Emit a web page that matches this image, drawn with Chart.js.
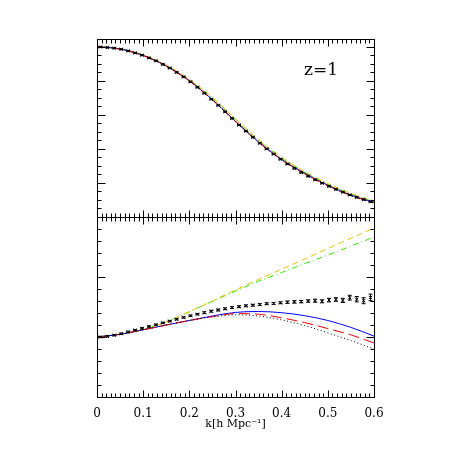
<!DOCTYPE html>
<html>
<head>
<meta charset="utf-8">
<title>z=1</title>
<script src="https://cdn.jsdelivr.net/npm/chart.js@4.4.1/dist/chart.umd.min.js"></script>
<style>
    html, body { margin: 0; padding: 0; background: #fff; }
    #wrap { width: 452px; height: 452px; }
</style>
</head>
<body>
<div id="wrap"><canvas id="chart" width="452" height="452"></canvas></div>
<script>
// k grids
const kTop = [0, 0.025, 0.05, 0.075, 0.1, 0.125, 0.15, 0.175, 0.2, 0.225, 0.25, 0.275, 0.3,
              0.325, 0.35, 0.375, 0.4, 0.425, 0.45, 0.475, 0.5, 0.525, 0.55, 0.575, 0.6];
const kBot = [0, 0.05, 0.1, 0.15, 0.2, 0.25, 0.3, 0.35, 0.4, 0.45, 0.5, 0.55, 0.6];
const kData = [0.0075, 0.0225, 0.0375, 0.0525, 0.0675, 0.0825, 0.0975, 0.1125, 0.1275, 0.1425,
               0.1575, 0.1725, 0.1875, 0.2025, 0.2175, 0.2325, 0.2475, 0.2625, 0.2775, 0.2925,
               0.3075, 0.3225, 0.3375, 0.3525, 0.3675, 0.3825, 0.3975, 0.4125, 0.4275, 0.4425,
               0.4575, 0.4725, 0.4875, 0.5025, 0.5175, 0.5325, 0.5475, 0.5625, 0.5775, 0.5925];

// upper panel
const topBlack  = [1.000, 0.997, 0.988, 0.972, 0.950, 0.922, 0.888, 0.847, 0.800, 0.746, 0.688, 0.625, 0.560,
                   0.498, 0.438, 0.384, 0.335, 0.292, 0.253, 0.216, 0.183, 0.152, 0.125, 0.102, 0.083];
const topRed    = [1.000, 0.997, 0.988, 0.972, 0.950, 0.922, 0.888, 0.847, 0.801, 0.747, 0.689, 0.626, 0.561,
                   0.499, 0.440, 0.386, 0.337, 0.294, 0.255, 0.218, 0.185, 0.154, 0.127, 0.104, 0.085];
const topBlue   = [1.000, 0.997, 0.988, 0.972, 0.950, 0.922, 0.888, 0.848, 0.802, 0.748, 0.690, 0.628, 0.563,
                   0.501, 0.442, 0.388, 0.339, 0.296, 0.257, 0.220, 0.187, 0.156, 0.129, 0.106, 0.087];
const topYellow = [1.000, 0.997, 0.989, 0.974, 0.953, 0.927, 0.894, 0.855, 0.810, 0.759, 0.703, 0.642, 0.577,
                   0.515, 0.455, 0.400, 0.351, 0.307, 0.267, 0.230, 0.197, 0.166, 0.139, 0.115, 0.096];
const topGreen  = [1.000, 0.997, 0.989, 0.973, 0.952, 0.925, 0.892, 0.852, 0.807, 0.755, 0.699, 0.638, 0.573,
                   0.511, 0.451, 0.396, 0.347, 0.303, 0.263, 0.226, 0.193, 0.162, 0.135, 0.111, 0.092];
const topPoints = [1.000, 0.997, 0.993, 0.987, 0.977, 0.965, 0.952, 0.936, 0.919, 0.898,
                   0.876, 0.851, 0.824, 0.795, 0.763, 0.728, 0.693, 0.657, 0.619, 0.580,
                   0.541, 0.505, 0.469, 0.434, 0.401, 0.370, 0.340, 0.312, 0.286, 0.262,
                   0.240, 0.219, 0.199, 0.181, 0.163, 0.146, 0.130, 0.116, 0.103, 0.090];
const topErrors = [0.003, 0.003, 0.003, 0.003, 0.003, 0.003, 0.003, 0.003, 0.003, 0.003,
                   0.003, 0.003, 0.003, 0.003, 0.003, 0.003, 0.003, 0.003, 0.003, 0.003,
                   0.003, 0.003, 0.003, 0.003, 0.003, 0.003, 0.003, 0.003, 0.003, 0.003,
                   0.003, 0.003, 0.003, 0.003, 0.003, 0.003, 0.003, 0.003, 0.003, 0.003];

// lower panel
const botBlack  = [1.000, 1.009, 1.024, 1.040, 1.055, 1.067, 1.074, 1.070, 1.057, 1.038, 1.014, 0.988, 0.960];
const botRed    = [1.000, 1.009, 1.024, 1.040, 1.055, 1.068, 1.078, 1.076, 1.064, 1.048, 1.028, 1.007, 0.980];
const botBlue   = [1.000, 1.009, 1.024, 1.040, 1.055, 1.070, 1.082, 1.085, 1.081, 1.071, 1.055, 1.032, 1.003];
const botYellow = [1.000, 1.009, 1.025, 1.050, 1.085, 1.120, 1.157, 1.192, 1.226, 1.260, 1.295, 1.329, 1.363];
const botGreen  = [1.000, 1.009, 1.025, 1.050, 1.084, 1.119, 1.153, 1.186, 1.215, 1.245, 1.273, 1.303, 1.333];
const botPoints = [1.000, 1.002, 1.006, 1.011, 1.017, 1.023, 1.029, 1.035, 1.041, 1.047,
                   1.053, 1.059, 1.065, 1.071, 1.076, 1.081, 1.086, 1.090, 1.094, 1.098,
                   1.101, 1.104, 1.106, 1.108, 1.111, 1.112, 1.114, 1.116, 1.117, 1.118,
                   1.120, 1.121, 1.119, 1.123, 1.125, 1.122, 1.131, 1.126, 1.121, 1.132];
const botErrors = [0.002, 0.002, 0.002, 0.002, 0.002, 0.002, 0.002, 0.002, 0.002, 0.002,
                   0.002, 0.002, 0.002, 0.002, 0.002, 0.003, 0.003, 0.003, 0.003, 0.003,
                   0.003, 0.003, 0.003, 0.003, 0.003, 0.003, 0.003, 0.004, 0.004, 0.004,
                   0.004, 0.005, 0.005, 0.006, 0.006, 0.007, 0.008, 0.009, 0.010, 0.011];

const xTicks = [0, 0.1, 0.2, 0.3, 0.4, 0.5, 0.6];

const pts = (xs, ys) => xs.map((x, i) => ({ x: x, y: ys[i] }));

function line(data, axis, color, dash, width) {
    return {
        type: 'line',
        data: data,
        yAxisID: axis,
        borderColor: color,
        borderWidth: width || 1,
        borderDash: dash,
        pointRadius: 0,
        fill: false,
        cubicInterpolationMode: 'monotone',
        order: 2
    };
}

function points(data, axis, errors) {
    return {
        type: 'line',
        data: data,
        yAxisID: axis,
        showLine: false,
        pointStyle: 'crossRot',
        pointRadius: 2.2,
        borderColor: '#000',
        pointBorderWidth: 1,
        errors: errors,
        order: 0
    };
}

// error bars, drawn through the panel's own scale
const errorBars = {
    id: 'errorBars',
    afterDatasetsDraw(chart) {
        const ctx = chart.ctx;
        chart.data.datasets.forEach((ds, i) => {
            if (!ds.errors) return;
            const meta = chart.getDatasetMeta(i);
            const ys = chart.scales[ds.yAxisID];
            ctx.save();
            ctx.strokeStyle = '#000';
            ctx.lineWidth = 1;
            meta.data.forEach((pt, j) => {
                const v = ds.data[j].y, e = ds.errors[j];
                const y1 = ys.getPixelForValue(v - e);
                const y2 = ys.getPixelForValue(v + e);
                ctx.beginPath();
                ctx.moveTo(pt.x, y1); ctx.lineTo(pt.x, y2);
                ctx.moveTo(pt.x - 2, y1); ctx.lineTo(pt.x + 2, y1);
                ctx.moveTo(pt.x - 2, y2); ctx.lineTo(pt.x + 2, y2);
                ctx.stroke();
            });
            ctx.restore();
        });
    }
};

// boxes with inward ticks on all four sides of each panel
const frame = {
    id: 'frame',
    afterDraw(chart) {
        const { ctx, chartArea: a, scales } = chart;
        const x = scales.x;
        const l = Math.round(a.left) + 0.5, r = Math.round(a.right) + 0.5;
        ctx.save();
        ctx.strokeStyle = '#000';
        ctx.lineWidth = 1;
        const panels = [
            { s: scales.yTop, start: 0, step: 0.05, n: 21, every: 4 },
            { s: scales.yBot, start: 0.8, step: 0.04, n: 15, every: 5 }
        ];
        panels.forEach(p => {
            const t = Math.round(p.s.top) + 0.5, b = Math.round(p.s.bottom) + 0.5;
            ctx.strokeRect(l, t, r - l, b - t);
            ctx.beginPath();
            for (let i = 0; i <= 60; i++) {
                const px = Math.round(x.getPixelForValue(i / 100)) + 0.5;
                const len = i % 10 === 0 ? 7 : 4;
                ctx.moveTo(px, b); ctx.lineTo(px, b - len);
                ctx.moveTo(px, t); ctx.lineTo(px, t + len);
            }
            for (let i = 0; i <= p.n; i++) {
                const v = p.start + i * p.step;
                if (v > p.s.max + 1e-9) break;
                const py = Math.round(p.s.getPixelForValue(v)) + 0.5;
                const len = i % p.every === 0 ? 8 : 4;
                ctx.moveTo(l, py); ctx.lineTo(l + len, py);
                ctx.moveTo(r, py); ctx.lineTo(r - len, py);
            }
            ctx.stroke();
        });
        // panel label
        ctx.fillStyle = '#000';
        ctx.font = '17px "DejaVu Serif"';
        ctx.textBaseline = 'alphabetic';
        ctx.fillText('z=1', a.left + 207, scales.yTop.top + 36);
        ctx.restore();
    }
};

const hiddenY = (min, max, weight, order) => ({
    type: 'linear',
    position: 'left',
    stack: 'panels',
    stackWeight: weight,
    weight: order,
    min: min,
    max: max,
    grid: { display: false },
    border: { display: false },
    ticks: { display: false },
    afterFit: s => { s.width = 0; }
});

new Chart(document.getElementById('chart'), {
    data: {
        datasets: [
            line(pts(kTop, topBlack), 'yTop', '#000', [1, 2.5]),
            line(pts(kTop, topRed), 'yTop', '#ff0000', [11, 5]),
            line(pts(kTop, topBlue), 'yTop', '#0000ff', []),
            line(pts(kTop, topYellow), 'yTop', '#e6c400', [6, 4]),
            line(pts(kTop, topGreen), 'yTop', '#33e600', [6, 3, 1, 3]),
            points(pts(kData, topPoints), 'yTop', topErrors),
            line(pts(kBot, botBlack), 'yBot', '#000', [1, 2.5]),
            line(pts(kBot, botRed), 'yBot', '#ff0000', [11, 5]),
            line(pts(kBot, botBlue), 'yBot', '#0000ff', []),
            line(pts(kBot, botYellow), 'yBot', '#e6c400', [6, 4]),
            line(pts(kBot, botGreen), 'yBot', '#33e600', [6, 3, 1, 3]),
            points(pts(kData, botPoints), 'yBot', botErrors)
        ]
    },
    options: {
        responsive: false,
        animation: false,
        events: [],
        layout: { padding: { left: 97, right: 78, top: 39, bottom: 0 } },
        plugins: {
            legend: { display: false },
            tooltip: { enabled: false }
        },
        scales: {
            x: {
                type: 'linear',
                min: 0,
                max: 0.6,
                grid: { display: false },
                border: { display: false },
                afterBuildTicks: s => { s.ticks = xTicks.map(v => ({ value: v })); },
                ticks: {
                    color: '#000',
                    padding: 2,
                    maxRotation: 0,
                    font: { family: 'DejaVu Serif', size: 12 },
                    callback: v => String(v)
                },
                title: {
                    display: true,
                    text: 'k[h Mpc⁻¹]',
                    color: '#000',
                    font: { family: 'DejaVu Serif', size: 11 },
                    padding: { top: 0, bottom: 21 }
                },
                afterFit: s => { s.height = 55; }
            },
            yTop: hiddenY(0, 1.047, 178, 2),
            yBot: hiddenY(0.8, 1.4, 180, 1)
        }
    },
    plugins: [errorBars, frame]
});
</script>
</body>
</html>
